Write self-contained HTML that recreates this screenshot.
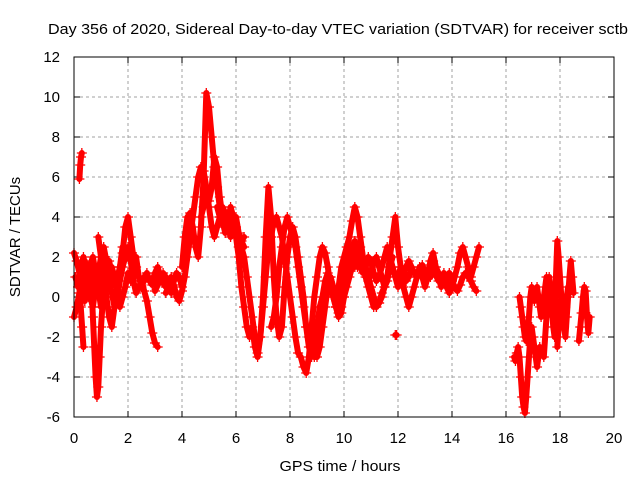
<!DOCTYPE html>
<html><head><meta charset="utf-8"><style>
body{margin:0;background:#fff}
svg{font-family:"Liberation Sans",sans-serif}
</style></head><body>
<svg id="c" width="640" height="480">
<text x="338" y="34" font-size="15" text-anchor="middle" textLength="580" lengthAdjust="spacingAndGlyphs">Day 356 of 2020, Sidereal Day-to-day VTEC variation (SDTVAR) for receiver sctb</text>
<text x="340" y="471" font-size="15" text-anchor="middle" textLength="121" lengthAdjust="spacingAndGlyphs">GPS time / hours</text>
<text x="20" y="237" font-size="15" text-anchor="middle" transform="rotate(-90 20 237)">SDTVAR / TECUs</text>
<g id="grid"></g><g id="ticks"></g><g id="marks"></g>
<rect x="74" y="57" width="540" height="360" fill="none" stroke="#000"/>
</svg>
<script>
const xTicks=[0,2,4,6,8,10,12,14,16,18,20];
const yTicks=[-6,-4,-2,0,2,4,6,8,10,12];
const trackStarts=[0,0,0.2,0.2,0.6,0.9,3.0,3.4,4.0,4.7,6.0,6.2,7.3,9.3,11.0,11.9,16.3,16.5,17.4,17.9,18.7,0.05,1.2,5.3,10.4,12.0];
const trackSteps=[0.1,0.1,0.05,0.03,0.05,0.1,0.1,0.1,0.1,0.1,0.1,0.1,0.1,0.1,0.1,0.05,0.05,0.05,0.05,0.05,0.05,0.1,0.1,0.1,0.1,0.1];
const trackValues=[
[2.2,1.8,1.2,0.5,-0.2,0.8,1.6,2.0,1.2,0.4,-0.5,0.2,1.0,1.8,1.2,0.6,0.9,1.5,2.2,3.5,4.0,3.0,2.0,1.5,1.0,0.6,0.8,1.0,0.9,0.8,1.2,1.5,1.0,0.7,0.5,0.8],
[-1.0,-0.5,0.2,1.0,1.8,1.0,0.0,-0.5,0.5,1.2,2.0,2.5,1.8,0.8,0.2,-0.5,0.0,0.8,1.5,2.0,2.5,1.8,0.8,0.2,0.5,0.8,0.3,-0.2,-1.0,-1.8,-2.3,-2.5],
[0.5,-0.5,-1.5,-2.5],
[5.9,6.6,7.0,7.2],
[1.5,0.5,-1,-2.5,-4,-5,-4.5,-3,-1.5,-0.5,0.5,1.5],
[3.0,2.0,1.0,0.0,-1.0,-1.5,-0.5,0.5,1.5,2.5],
[0.3,0.6,0.9,1.2,1.0,0.5,0.2,0.8,1.2,1.0,0.5],
[0.2,0.5,1.0,0.6,0.0,-0.2,0.3,1.0,2.0,3.0,4.0,5.0,6.0,6.5,6.3,5.5,4.5,3.5,3.0,3.5,4.0,4.5,4.2,3.8,3.5],
[1.5,3.0,4.0,4.2,3.5,2.5,2.0,3.5,6.0,10.2,9.5,8.0,6.5,5.5,4.5,3.8,3.2,3.5,4.0,3.5,3.0,2.5,2.8,3.0],
[4.0,4.5,5.0,4.8,5.5,7.0,6.5,5.0,4.0,3.5,3.8,4.5,4.0,3.5],
[3.0,2.0,0.5,-0.5,-1.5,-2.0,-1.5,-2.5,-3.0,-2.0,-0.5,1.0,2.5,3.0,3.8,4.0,3.5,3.0,2.0,1.0,0.0,-1.0,-2.0,-2.8,-3.0,-3.5,-3.8,-3.0,-1.5,0.0,1.0,2.0,2.5,2.2,1.5,0.5,0.0,-0.5,-0.8,-0.5,0.0,0.5,1.0,1.5,2.0,2.2,2.5,2.0,1.5,1.0,0.5,0.0,-0.5,-0.3,0.2,0.5],
[2.5,2.0,1.0,0.0,-1.0,-2.0,-2.8,-2.0,0.0,3.0,5.5,4.0,1.0,-1.0,-2.0,-1.5,0.5,2.0,3.0,3.5,3.0,2.0,1.0,0.0,-1.5,-2.5,-3.0,-2.5,-1.5,-0.5,0.0,0.8,1.2,0.5,0.0,-0.5,0.5,1.5,2.0,2.5,3.0,3.8,4.5,4.0,3.0,2.0,1.0,0.5,0.0,-0.5],
[-1.5,-1.0,0.0,1.5,2.5,3.5,4.0,3.5,3.0,2.5,1.5,0.5,-0.5,-1.5,-2.0,-2.5,-3.0,-3.0,-2.5,-1.5,-0.5,0.5,1.0,0.5,-0.5,-1.0,-0.8,0.0,1.0,1.8,2.3,2.0,1.5],
[0.0,0.5,1.0,0.5,0.0,-0.5,0.0,0.8,1.5,2.0,2.5,2.8,2.2,1.5,1.2,1.5,2.0,1.8,1.2,0.8,1.0,1.5,2.0,2.5,2.0,1.5,1.0,0.5,0.8,1.2,1.5,1.8,1.5,1.2,1.0,1.3,1.5,1.2,1.0,1.4,1.8,1.5,1.2,1.0,0.8,0.5,0.2,0.5,1.0,1.5,2.2,2.5,2.0,1.5,1.0,1.5,2.0,2.5],
[0.5,0.0,-0.5,-0.3,0.0,0.5,1.0,2.0,3.0,4.0,2.5,1.5,0.5,0.0,-0.5,0.0,0.5,1.0,1.5,1.0,0.5,1.0,1.8,2.2,1.5,1.0,0.5,0.8,1.0,1.2,0.8,0.5,0.3,0.6,1.0,1.2,1.0,0.8,0.5,0.3],
[-1.9,-1.9],
[-3.0,-3.2,-2.8,-2.5,-3.0,-4.0,-5.0,-5.5,-5.8,-5.0,-4.0,-3.0,-2.0,-1.5,-2.0,-2.5,-3.0,-3.5,-3.0,-2.5],
[0.0,-0.5,-1.0,-1.5,-2.0,-2.2,-2.0,-1.0,0.0,0.5,0.2,-0.2,0.0,0.5,0.0,-0.5,-1.0,-0.5,0.0,0.5,1.0,0.5],
[-3.0,-2.0,-1.0,0.0,1.0,0.5,-0.5,-1.5,-2.0,1.0,2.8,2.0,1.0,0.0,-0.5,-1.0,-0.5,0.0,0.5],
[-2.5,-1.5,-0.5,0.0,-0.5,-1.5,-2.0,-1.0,0.0,1.0,1.8,1.0,0.2],
[-2.2,-1.5,-0.8,0.0,0.5,0.3,-1.0,-1.8,-1.0],
[1.0,0.5,1.5,2.0,1.0,0.0,0.8,1.5,1.0,0.5,1.2],
[0.5,1.0,1.5,1.0,0.3,-0.5,0.0,0.5,1.2,0.8,1.5,2.0,1.0,0.5,1.0,1.2,0.8,0.6,1.0],
[4.5,4.0,3.8,4.2,3.5,3.0,3.8,4.0,3.2,2.8,2.5],
[1.5,2.0,2.2,1.8,1.2,0.8,1.2,1.8,2.0,1.5,1.0,0.5,0.8,1.5,2.0],
[1.0,1.5,1.2,0.8,1.0,1.5,1.2,1.0,1.3,1.6,1.2,0.9,1.0,1.4,1.1,0.8,1.0,1.2,0.7,0.5]
];
const NS="http://www.w3.org/2000/svg";
const X=v=>74+(v-0)*540/20;
const Y=v=>417-(v+6)*360/18;
function mk(tag,attrs,parent){const e=document.createElementNS(NS,tag);for(const k in attrs)e.setAttribute(k,attrs[k]);parent.appendChild(e);return e;}
const grid=document.getElementById('grid'),ticks=document.getElementById('ticks'),marks=document.getElementById('marks');
xTicks.forEach(t=>{
  const g=mk('line',{x1:X(t),x2:X(t),y1:57,y2:417,stroke:'#a0a0a0','stroke-dasharray':'3,3'},grid);
  
  
  mk('line',{x1:X(t),x2:X(t),y1:417,y2:411,stroke:'#000'},ticks);
  mk('line',{x1:X(t),x2:X(t),y1:57,y2:63,stroke:'#000'},ticks);
  const l=mk('text',{x:X(t),y:443,'font-size':15,'text-anchor':'middle'},ticks);
  l.textContent=t;
  
  
});
yTicks.forEach(t=>{
  const g=mk('line',{x1:74,x2:614,y1:Y(t),y2:Y(t),stroke:'#a0a0a0','stroke-dasharray':'3,3'},grid);
  
  
  mk('line',{x1:74,x2:80,y1:Y(t),y2:Y(t),stroke:'#000'},ticks);
  mk('line',{x1:608,x2:614,y1:Y(t),y2:Y(t),stroke:'#000'},ticks);
  const l=mk('text',{x:60,y:Y(t)+5,'font-size':15,'text-anchor':'end'},ticks);
  l.textContent=t;
  
  
});
trackValues.forEach((vals,i)=>{
  const pts=vals.map((v,j)=>[X(trackStarts[i]+j*trackSteps[i]),Y(v)]);
  const pl=mk('polyline',{points:pts.map(p=>p.join(',')).join(' '),fill:'none',stroke:'#f00','stroke-width':6,'stroke-linejoin':'round','stroke-linecap':'round'},marks);
  
  
  let d='';
  pts.forEach(p=>{d+=`M${p[0]-5},${p[1]}h10M${p[0]},${p[1]-5}v10`;});
  const m=mk('path',{d:d,stroke:'#f00','stroke-width':1.3,fill:'none'},marks);
  
  
});
</script>
</body></html>
